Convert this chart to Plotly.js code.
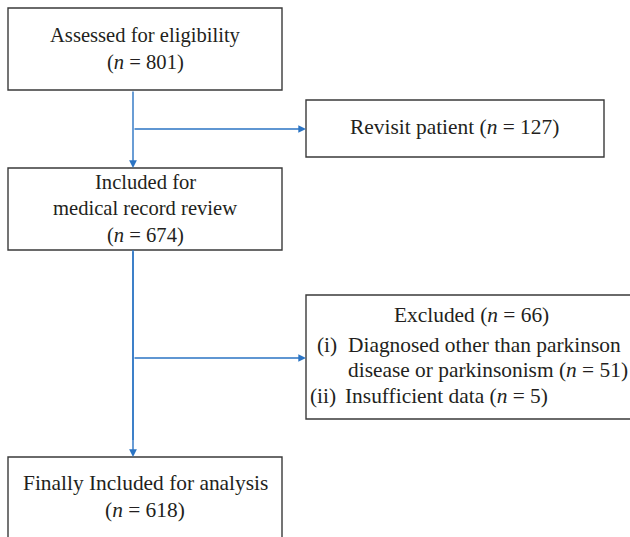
<!DOCTYPE html>
<html>
<head>
<meta charset="utf-8">
<script src="https://cdn.plot.ly/plotly-3.0.1.min.js"></script>
<style>html,body{margin:0;padding:0;background:#fff;}#chart{width:630px;height:537px;}</style>
</head>
<body>
<div id="chart"></div>
<script>
// ---- data ----
const stageLines = [
  ["Assessed for eligibility"],
  ["Included for", "medical record review"],
  ["Finally Included for analysis"]
];
const stageCounts = [801, 674, 618];
const sideLabels = ["Revisit patient", "Excluded"];
const sideCounts = [127, 66];
const reasonNumerals = ["(i)", "(ii)"];
const reasonLines = [
  ["Diagnosed other than parkinson", "disease or parkinsonism"],
  ["Insufficient data"]
];
const reasonCounts = [51, 5];

// ---- layout geometry (pixels) ----
const textColor = "#231f20";
const boxColor = "#3a3a3a";
const arrowColor = "#2b74c4";
const font = {family: "Liberation Serif", size: 20.6, color: textColor};
const fontWide = {family: "Liberation Serif", size: 21.4, color: textColor};

const stageBoxes = [[8, 8, 282, 90], [8, 168, 282, 250], [8, 457, 282, 560]];
const sideBoxes = [[306, 100, 604, 157], [306, 295, 640, 419]];
const stageLineY = [[35, 62], [182, 208, 235], [483, 510]];
const nfmt = n => "(<i>n</i> = " + n + ")";

const shapes = [];
const annotations = [];
function box(b) {
  shapes.push({type: "rect", xref: "x", yref: "y", x0: b[0], y0: b[1], x1: b[2], y1: b[3],
    line: {color: boxColor, width: 1.4}, fillcolor: "rgba(0,0,0,0)"});
}
function txt(x, y, t, anchor, f) {
  annotations.push({xref: "x", yref: "y", x: x, y: y, text: t, showarrow: false,
    xanchor: anchor || "center", yanchor: "middle", font: f || font});
}
function arrow(x0, y0, x1, y1) {
  annotations.push({xref: "x", yref: "y", axref: "x", ayref: "y", x: x1, y: y1, ax: x0, ay: y0,
    text: "", showarrow: true, arrowhead: 2, arrowsize: 1.1, arrowwidth: 1.4,
    arrowcolor: arrowColor, standoff: 0, startstandoff: 0});
}

stageBoxes.forEach(box);
sideBoxes.forEach(box);

stageLines.forEach((lines, i) => {
  const cx = (stageBoxes[i][0] + stageBoxes[i][2]) / 2;
  const all = lines.concat([nfmt(stageCounts[i])]);
  all.forEach((l, j) => txt(cx, stageLineY[i][j], l, "center", i === 2 ? fontWide : font));
});

txt(454, 127, sideLabels[0] + " " + nfmt(sideCounts[0]), "center", fontWide);
txt(471, 315, sideLabels[1] + " " + nfmt(sideCounts[1]), "center", fontWide);

const reasonY = [[345, 370], [396]];
const numRight = [339, 338];
const textLeft = [346, 343];
reasonLines.forEach((lines, i) => {
  txt(numRight[i], reasonY[i][0], reasonNumerals[i], "right", fontWide);
  lines.forEach((l, j) => {
    const last = j === lines.length - 1;
    txt(textLeft[i], reasonY[i][j], l + (last ? " " + nfmt(reasonCounts[i]) : ""), "left", fontWide);
  });
});

// connectors
const trunkX = 133;
shapes.push({type: "line", xref: "x", yref: "y", x0: trunkX, y0: 250, x1: trunkX, y1: 440,
  line: {color: arrowColor, width: 1.4}});
arrow(trunkX, 90, trunkX, 168);
arrow(trunkX, 129, 306, 129);
arrow(trunkX, 250, trunkX, 457);
arrow(trunkX, 358, 306, 358);

const layout = {
  width: 630, height: 537,
  margin: {l: 0, r: 0, t: 0, b: 0},
  paper_bgcolor: "#ffffff", plot_bgcolor: "#ffffff",
  xaxis: {range: [0, 630], visible: false, fixedrange: true},
  yaxis: {range: [537, 0], visible: false, fixedrange: true},
  showlegend: false,
  shapes: shapes,
  annotations: annotations
};
Plotly.newPlot("chart", [], layout, {staticPlot: true, displayModeBar: false});
</script>
</body>
</html>
